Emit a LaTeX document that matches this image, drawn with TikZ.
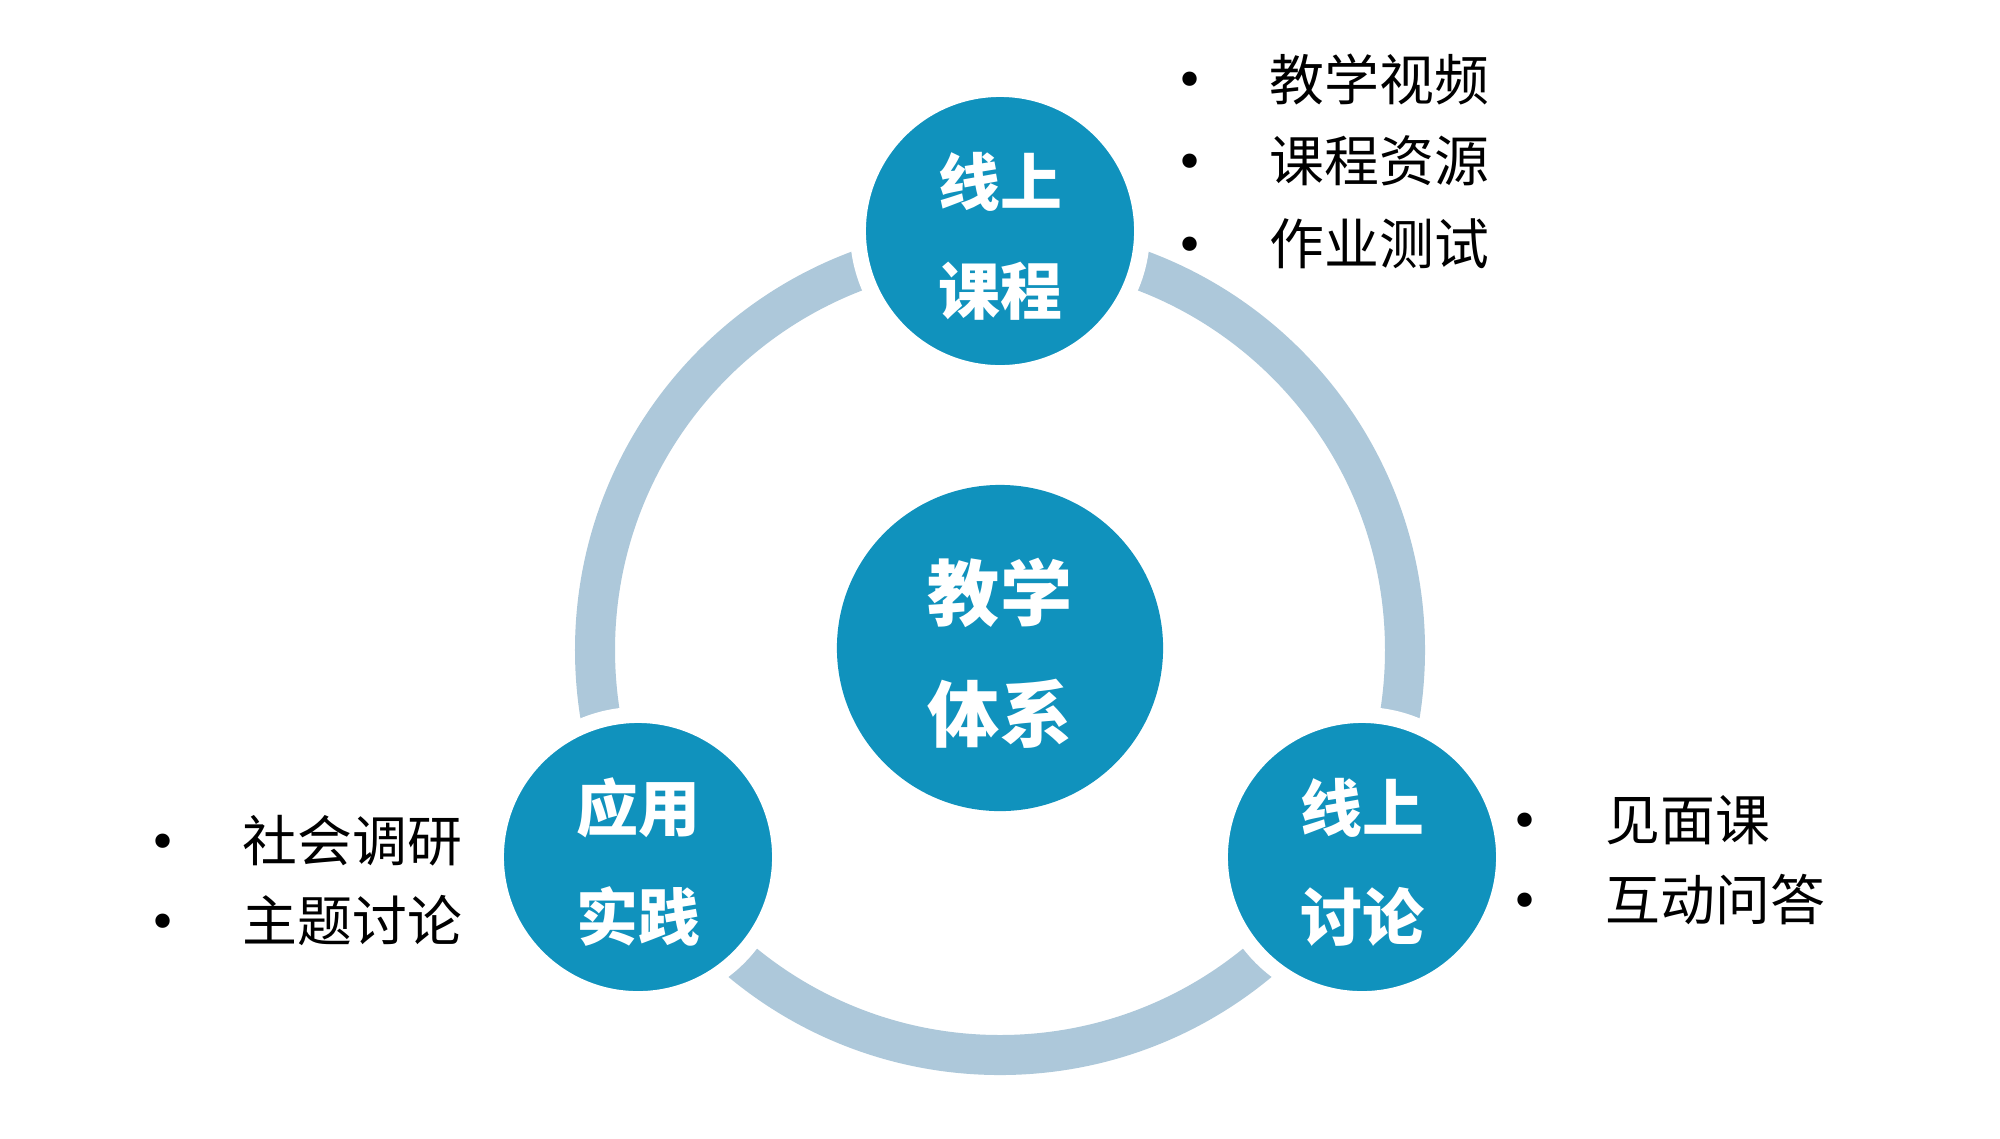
\documentclass[tikz,border=0pt]{standalone}
\usepackage{fontspec}
\newfontfamily\cjk{Noto Sans CJK SC}
\newfontfamily\dejavu{DejaVu Sans}
\definecolor{mainblue}{RGB}{16,146,189}
\definecolor{ringblue}{RGB}{173,200,218}
\tikzset{
  ringline/.style={draw=ringblue, line width=0.4cm},
  smallcirc/.style={circle, fill=mainblue, draw=white, line width=0.16cm, minimum size=2.84cm, inner sep=0pt},
  bigcirc/.style={circle, fill=mainblue, minimum size=3.26cm, inner sep=0pt},
  circtext/.style={text=white, align=center, font=\cjk\bfseries\fontsize{17.6}{31}\selectfont},
  bigtext/.style={text=white, align=center, font=\cjk\bfseries\fontsize{20.5}{34.4}\selectfont},
  listtext/.style={anchor=west, inner sep=0pt, font=\cjk\fontsize{15.6}{18}\selectfont},
  bulletdot/.style={inner sep=0pt, yshift=-0.06cm, font=\dejavu\fontsize{14}{16}\selectfont},
}
\begin{document}
\begin{tikzpicture}[x=0.01cm,y=-0.01cm]
\path[fill=white,use as bounding box] (0,0) rectangle (2000,1138);
\coordinate (c) at (1000,650);
\draw[ringline] (c) circle (405);
\node[bigcirc] (center) at (1000,648) {};
\node[bigtext] (centerT) at (1000,653) {教学\\体系};
\node[smallcirc] (top) at (1000,231) {};
\node[circtext] (topT) at (1000,236) {线上\\课程};
\node[smallcirc] (bl) at (638,857) {};
\node[circtext] (blT) at (638,862) {应用\\实践};
\node[smallcirc] (br) at (1362,857) {};
\node[circtext] (brT) at (1362,862) {线上\\讨论};
% top list
\node[bulletdot] (b1) at (1190,79) {•};
\node[listtext] (t1) at (1269,79) {教学视频};
\node[bulletdot] (b2) at (1190,161) {•};
\node[listtext] (t2) at (1269,161) {课程资源};
\node[bulletdot] (b3) at (1190,244) {•};
\node[listtext] (t3) at (1269,244) {作业测试};
% left list
\node[bulletdot] (b4) at (163,841) {•};
\node[listtext] (t4) at (242,841) {社会调研};
\node[bulletdot] (b5) at (163,921) {•};
\node[listtext] (t5) at (242,921) {主题讨论};
% right list
\node[bulletdot] (b6) at (1525,820) {•};
\node[listtext] (t6) at (1605,820) {见面课};
\node[bulletdot] (b7) at (1525,900) {•};
\node[listtext] (t7) at (1605,900) {互动问答};
\end{tikzpicture}
\end{document}
